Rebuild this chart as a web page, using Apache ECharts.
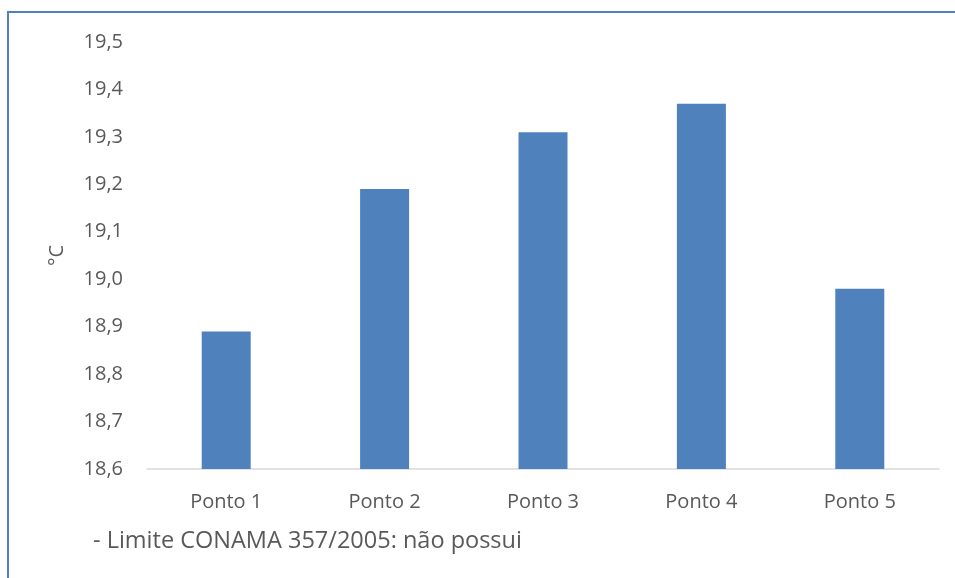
<!DOCTYPE html>
<html>
<head>
<meta charset="utf-8">
<script src="https://cdn.jsdelivr.net/npm/echarts@6/dist/echarts.min.js"></script>
<style>
  html, body { margin: 0; padding: 0; background: #ffffff; }
  #chart { width: 955px; height: 578px; }
</style>
</head>
<body>
<div id="chart"></div>
<script>
// Water temperature per sampling point
const categories = ['Ponto 1', 'Ponto 2', 'Ponto 3', 'Ponto 4', 'Ponto 5'];
const temperatures = [18.89, 19.19, 19.31, 19.37, 18.98];
const yMin = 18.6;
const yMax = 19.5;
const yStep = 0.1;
const yAxisName = '°C';
const footnote = '- Limite CONAMA 357/2005: não possui';

const textColor = '#595959';
const fontFamily = "'Open Sans', 'Liberation Sans', sans-serif";

const chart = echarts.init(document.getElementById('chart'), null, { renderer: 'canvas' });

chart.setOption({
  animation: false,
  backgroundColor: '#ffffff',
  grid: { left: 147, right: 16, top: 42, bottom: 109, containLabel: false },
  xAxis: {
    type: 'category',
    data: categories,
    axisLine: { lineStyle: { color: '#d9d9d9', width: 1.5 } },
    axisTick: { show: false },
    axisLabel: { color: textColor, fontSize: 20, fontFamily: fontFamily, margin: 23 }
  },
  yAxis: {
    type: 'value',
    min: yMin,
    max: yMax,
    interval: yStep,
    name: yAxisName,
    nameLocation: 'middle',
    nameGap: 80,
    nameRotate: 90,
    nameTextStyle: { color: textColor, fontSize: 20, fontFamily: fontFamily },
    axisLine: { show: false },
    axisTick: { show: false },
    splitLine: { show: false },
    axisLabel: {
      color: textColor,
      fontSize: 20,
      fontFamily: fontFamily,
      margin: 24,
      formatter: v => v.toFixed(1).replace('.', ',')
    }
  },
  series: [{
    type: 'bar',
    data: temperatures,
    barWidth: 49,
    itemStyle: { color: '#4f81bd' }
  }],
  graphic: [
    {
      type: 'rect',
      shape: { x: 8, y: 12, width: 970, height: 600 },
      style: { fill: 'none', stroke: '#4f81bd', lineWidth: 2 },
      silent: true
    },
    {
      type: 'text',
      x: 93,
      y: 541,
      style: {
        text: footnote,
        fill: textColor,
        font: '23.5px ' + fontFamily,
        verticalAlign: 'middle'
      }
    }
  ]
});
</script>
</body>
</html>
